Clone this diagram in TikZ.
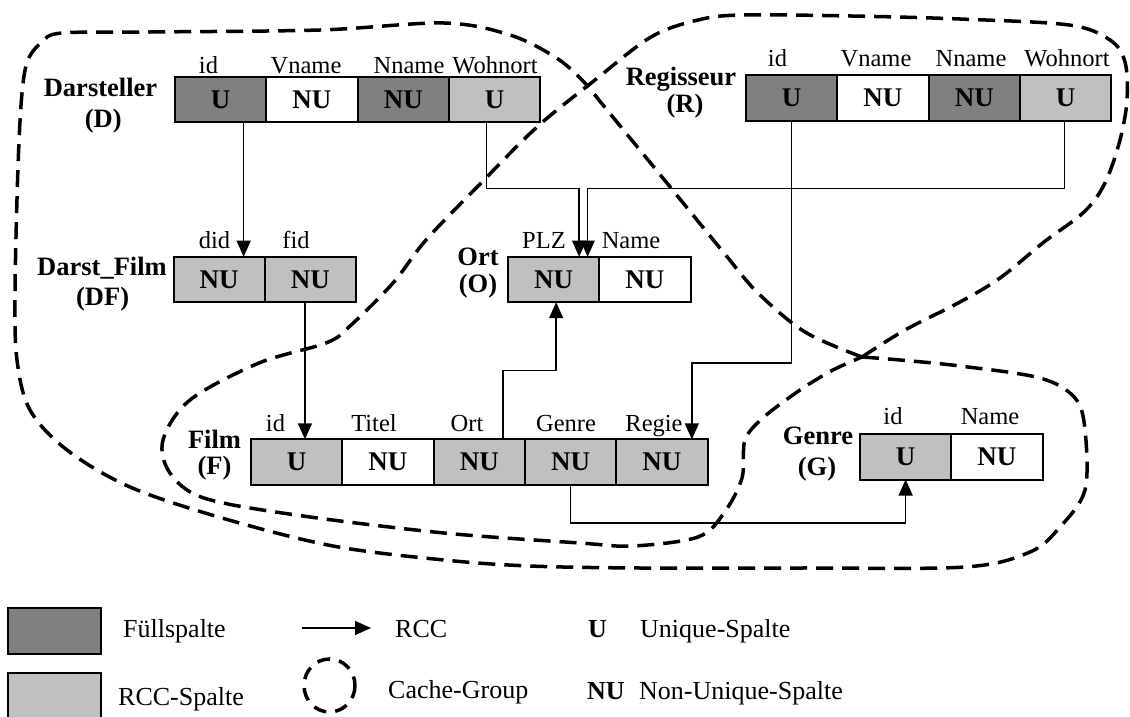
\documentclass[tikz,border=0pt]{standalone}
\usepackage{fontspec}
\setmainfont{Liberation Serif}
\usetikzlibrary{arrows.meta}
\definecolor{fillcol}{HTML}{808080}
\definecolor{rcccol}{HTML}{C0C0C0}
\begin{document}
\begin{tikzpicture}[x=1pt,y=-1pt,
  cell/.style={draw, line width=2pt, minimum width=91.3pt, minimum height=45.5pt,
    inner sep=0pt, outer sep=0pt, anchor=north west,
    font=\fontsize{27}{32}\selectfont\bfseries},
  fillc/.style={cell, fill=fillcol},
  rccc/.style={cell, fill=rcccol},
  plainc/.style={cell, fill=white},
  col/.style={anchor=base, inner sep=0pt, font=\fontsize{24.5}{29}\selectfont},
  tname/.style={anchor=base, inner sep=0pt, font=\fontsize{26.5}{31}\selectfont\bfseries},
  rcc/.style={line width=1.5pt, -{Triangle[length=16pt,width=14pt]}},
  cg/.style={line width=3.5pt, dash pattern=on 17pt off 9pt},
  legtext/.style={anchor=base west, inner sep=0pt, font=\fontsize{26}{31}\selectfont},
  legbox/.style={draw, line width=2pt, minimum width=93pt, minimum height=46pt,
    inner sep=0pt, anchor=north west},
]
\useasboundingbox (0,0) rectangle (1130,717);
\clip (0,0) rectangle (1130,717);

% ---------------- cache groups ----------------
% group around Darsteller
\draw[cg] plot[smooth, tension=0.55] coordinates {
  (862,357) (900,360) (960,366) (1040,378) (1075,398) (1085,430) (1085,490)
  (1060,527) (1030,552) (965,567) (800,568) (640,568) (530,566) (444,560)
  (333,546) (222,518) (130,487) (67,450) (30,410) (17,360) (15,293) (18,167)
  (22,93) (28,60) (42,42) (62,33) (150,32) (320,30) (444,23) (510,35)
  (555,57) (582,80) (607,110) (662,177) (724,253) (758,293) (805,332) (862,357)};
% group around Regisseur
\draw[cg] plot[smooth, tension=0.55] coordinates {
  (862,357) (905,330) (960,302) (1000,278) (1044,242) (1084,212) (1105,183)
  (1120,140) (1127,100) (1125,62) (1110,40) (1069,25) (960,19) (851,16)
  (742,15) (698,20) (651,37) (595,80) (537,127) (481,183) (426,240) (393,283)
  (350,326) (326,343) (259,363) (190,400) (163,440) (170,473) (204,498)
  (296,515) (444,533) (580,543) (633,546) (698,537) (724,513) (742,478)
  (745,440) (764,417) (800,390) (833,370) (862,357)};

% ---------------- Darsteller ----------------
\node[fillc]  (Did) at (175,76.7) {U};
\node[plainc] (Dvn) at (Did.north east) {NU};
\node[fillc]  (Dnn) at (Dvn.north east) {NU};
\node[rccc]   (Dwo) at (Dnn.north east) {U};
\node[col] (lDid) at (208.5,73.3) {id};
\node[col] (lDvn) at (306,73.3) {Vname};
\node[col] (lDnn) at (409,73.3) {Nname};
\node[col] (lDwo) at (495,73.3) {Wohnort};
\node[tname] (tD)  at (100.5,96) {Darsteller};
\node[tname] (tDa) at (103.3,127) {(D)};

% ---------------- Regisseur ----------------
\node[fillc]  (Rid) at (746,75) {U};
\node[plainc] (Rvn) at (Rid.north east) {NU};
\node[fillc]  (Rnn) at (Rvn.north east) {NU};
\node[rccc]   (Rwo) at (Rnn.north east) {U};
\node[col] (lRid) at (777.5,66.7) {id};
\node[col] (lRvn) at (876,66.7) {Vname};
\node[col] (lRnn) at (971,66.7) {Nname};
\node[col] (lRwo) at (1067,66.7) {Wohnort};
\node[tname] (tR)  at (681,85) {Regisseur};
\node[tname] (tRa) at (685,113) {(R)};

% ---------------- Darst_Film ----------------
\node[rccc] (DFdid) at (173.5,256.7) {NU};
\node[rccc] (DFfid) at (DFdid.north east) {NU};
\node[col] (lDFdid) at (214.5,248) {did};
\node[col] (lDFfid) at (296,248) {fid};
\node[tname] (tDF)  at (102,275) {Darst\_Film};
\node[tname] (tDFa) at (102.6,305) {(DF)};

% ---------------- Ort ----------------
\node[rccc]   (Oplz) at (508,256.7) {NU};
\node[plainc] (Onm)  at (Oplz.north east) {NU};
\node[col] (lOplz) at (544,248) {PLZ};
\node[col] (lOnm)  at (631,248) {Name};
\node[tname] (tO)  at (478,265.5) {Ort};
\node[tname] (tOa) at (478,292.5) {(O)};

% ---------------- Film ----------------
\node[rccc]   (Fid) at (251,439.3) {U};
\node[plainc] (Fti) at (Fid.north east) {NU};
\node[rccc]   (For) at (Fti.north east) {NU};
\node[rccc]   (Fge) at (For.north east) {NU};
\node[rccc]   (Frg) at (Fge.north east) {NU};
\node[col] (lFid) at (275.5,431.7) {id};
\node[col] (lFti) at (374,431.7) {Titel};
\node[col] (lFor) at (467,431.7) {Ort};
\node[col] (lFge) at (566,431.7) {Genre};
\node[col] (lFrg) at (654,431.7) {Regie};
\node[tname] (tF)  at (214.5,448) {Film};
\node[tname] (tFa) at (214.5,474) {(F)};

% ---------------- Genre ----------------
\node[rccc]   (Gid) at (860,434) {U};
\node[plainc] (Gnm) at (Gid.north east) {NU};
\node[col] (lGid) at (893,424) {id};
\node[col] (lGnm) at (990,424) {Name};
\node[tname] (tG)  at (818,444) {Genre};
\node[tname] (tGa) at (817,475) {(G)};

% ---------------- RCC connectors ----------------
\coordinate (hy) at (0,188.3);
\path (Did.south) ++(23,0) coordinate (r1);
\draw[rcc] (r1) -- (r1 |- DFdid.north);
\path (DFfid.south) ++(-5.5,0) coordinate (r2);
\draw[rcc] (r2) -- (r2 |- Fid.north);
\path (Dwo.south) ++(-8,0) coordinate (r3);
\path (Oplz.north) ++(25.5,0) coordinate (t3);
\draw[rcc] (r3) -- (r3 |- hy) -| (t3);
\path (Rwo.south) ++(-1,0) coordinate (r4);
\path (Oplz.north) ++(34,0) coordinate (t4);
\draw[rcc] (r4) -- (r4 |- hy) -| (t4);
\path (Frg.north) ++(30,0) coordinate (t5);
\draw[rcc] (Rid.south) -- ++(0,242.7) -| (t5);
\path (For.north) ++(23.5,0) coordinate (r6);
\path (Oplz.south) ++(2.5,0) coordinate (t6);
\draw[rcc] (r6) -- ++(0,-68.6) -| (t6);
\draw[rcc] (Fge.south) -- ++(0,38) -| (Gid.south);

% ---------------- legend ----------------
\node[legbox, fill=fillcol] (legFill) at (7,607) {};
\node[legbox, fill=rcccol, minimum height=52pt] (legRcc) at (7,672) {};
\node[legtext] (legFillT) at (123,637.7) {Füllspalte};
\node[legtext] (legRccT) at (118,705) {RCC-Spalte};
\coordinate (la1) at (302,628);
\coordinate (la2) at (371,628);
\draw[rcc] (la1) -- (la2);
\node[legtext] (legArrT) at (395,637) {RCC};
\draw[line width=3.5pt, dash pattern=on 13pt off 9pt] (329.5,685.5) ellipse [x radius=25.5, y radius=26.5];
\node[legtext] (legCgT) at (388,698) {Cache-Group};
\node[legtext, font=\fontsize{26}{31}\selectfont\bfseries] (legU) at (588,637) {U};
\node[legtext] (legUT) at (640,637) {Unique-Spalte};
\node[legtext, font=\fontsize{26}{31}\selectfont\bfseries] (legNU) at (587,699) {NU};
\node[legtext] (legNUT) at (639,699) {Non-Unique-Spalte};
\end{tikzpicture}
\end{document}
